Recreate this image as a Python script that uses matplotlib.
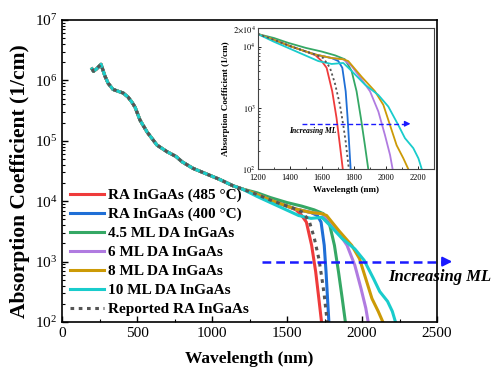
import numpy as np
import matplotlib
matplotlib.use('Agg')
import matplotlib.pyplot as plt
from matplotlib.ticker import FixedLocator, FixedFormatter, LogLocator, MultipleLocator, NullFormatter

plt.rcParams['font.family'] = ['Liberation Serif', 'DejaVu Serif']
plt.rcParams['mathtext.fontset'] = 'stix'

# shared short-wavelength part (all curves overlap here)
wl_common = [200, 210, 230, 260, 285, 307, 340, 375, 407, 440, 465, 487, 520, 567,
             633, 700, 760, 800, 873, 967, 1050, 1140, 1200]
a_common = [1.55e6, 1.42e6, 1.55e6, 1.85e6, 1.2e6, 9.0e5, 7.1e5, 6.6e5, 6.2e5, 5.3e5,
            4.4e5, 3.6e5, 2.2e5, 1.4e5, 8.5e4, 6.6e4, 5.5e4, 4.5e4, 3.5e4, 2.8e4,
            2.3e4, 1.8e4, 1.6e4]

# tails beyond 1200 nm
wl_ra485 = [1300, 1400, 1500, 1560, 1598, 1629, 1664, 1691, 1712, 1730, 1740]
a_ra485 = [1.29e4, 1.02e4, 8.3e3, 7.2e3, 5.8e3, 4.5e3, 1.86e3, 6.8e2, 2.45e2, 1.0e2, 7e1]

wl_ra400 = [1300, 1400, 1500, 1560, 1660, 1702, 1727, 1748, 1760, 1770, 1779, 1790]
a_ra400 = [1.29e4, 1.02e4, 8.3e3, 7.4e3, 6.5e3, 5.8e3, 4.5e3, 1.86e3, 6.8e2, 2.45e2, 1.0e2, 7e1]

wl_da45 = [1300, 1389, 1500, 1598, 1681, 1743, 1785, 1816, 1843, 1868, 1889, 1898]
a_da45 = [1.38e4, 1.15e4, 9.5e3, 8.3e3, 7.2e3, 6.2e3, 4.0e3, 1.86e3, 6.8e2, 2.45e2, 1.0e2, 7e1]

wl_da6 = [1300, 1400, 1500, 1560, 1660, 1733, 1785, 1848, 1900, 1952, 1993, 2025, 2041, 2050]
a_da6 = [1.29e4, 1.02e4, 8.3e3, 7.4e3, 6.5e3, 6.2e3, 4.8e3, 2.9e3, 1.86e3, 8.7e2, 3.6e2,
         1.7e2, 1.0e2, 7e1]

wl_da8 = [1300, 1400, 1500, 1560, 1660, 1733, 1764, 1848, 1931, 1983, 2025, 2066, 2108, 2139, 2150]
a_da8 = [1.29e4, 1.02e4, 8.3e3, 7.4e3, 6.5e3, 6.2e3, 5.8e3, 3.2e3, 1.86e3, 1.12e3, 5.2e2,
         2.45e2, 1.5e2, 1.0e2, 7e1]

wl_da10 = [1300, 1389, 1500, 1577, 1660, 1733, 1785, 1868, 1952, 2014, 2077, 2118, 2170, 2202, 2223, 2232]
a_da10 = [1.2e4, 9.5e3, 7.1e3, 5.8e3, 5.2e3, 5.4e3, 4.0e3, 2.4e3, 1.62e3, 1.05e3, 5.2e2,
          3.2e2, 2.2e2, 1.5e2, 1.0e2, 7e1]

wl_rep = [1300, 1400, 1500, 1560, 1608, 1650, 1681, 1712, 1733, 1748, 1760, 1768, 1778]
a_rep = [1.29e4, 1.02e4, 8.3e3, 7.4e3, 6.5e3, 4.5e3, 2.5e3, 1.12e3, 5.2e2, 2.8e2, 1.5e2, 1.0e2, 7e1]

series = [
    ('RA InGaAs (485 °C)', wl_ra485, a_ra485, '#ef3b3b', '-'),
    ('RA InGaAs (400 °C)', wl_ra400, a_ra400, '#1f6fd6', '-'),
    ('4.5 ML DA InGaAs', wl_da45, a_da45, '#35a865', '-'),
    ('6 ML DA InGaAs', wl_da6, a_da6, '#b07be0', '-'),
    ('8 ML DA InGaAs', wl_da8, a_da8, '#cc9a06', '-'),
    ('10 ML DA InGaAs', wl_da10, a_da10, '#19cccc', '-'),
    ('Reported RA InGaAs', wl_rep, a_rep, '#555555', (0, (1.2, 1.5))),
]

fig = plt.figure(figsize=(4.95, 3.75), dpi=100)
ax = fig.add_axes([0.1253, 0.1413, 0.7576, 0.8053])

for name, wl, a, col, ls in series:
    x = wl_common + wl
    y = a_common + a
    ax.plot(x, y, color=col, ls=ls, lw=2.2, label=name)

ax.set_yscale('log')
ax.set_xlim(0, 2500)
ax.set_ylim(1e2, 1e7)
ax.xaxis.set_major_locator(MultipleLocator(500))
ax.xaxis.set_minor_locator(MultipleLocator(250))
ax.tick_params(which='both', direction='in', labelsize=11)
ax.tick_params(which='major', length=4, width=1)
ax.tick_params(which='minor', length=2, width=0.8)
ax.set_xlabel('Wavelength (nm)', fontsize=12.5, fontweight='bold', labelpad=8)
ax.set_ylabel('Absorption Coefficient (1/cm)', fontsize=15.5, fontweight='bold')
ax.yaxis.set_label_coords(-0.085, 0.467)
for s in ax.spines.values():
    s.set_linewidth(1.2)

leg = ax.legend(loc='lower left', bbox_to_anchor=(0.005, 0.0), frameon=False,
                prop={'weight': 'bold', 'size': 11}, handlelength=2.2,
                handletextpad=0.3, labelspacing=0.34, borderaxespad=0.0)

# main arrow
ax.plot([1333, 2560], [1000, 1000], color='#1a1aff', lw=1.8, ls=(0, (3.5, 2)), clip_on=False)
ax.annotate('', xy=(2620, 1000), xytext=(2540, 1000), annotation_clip=False,
            arrowprops=dict(arrowstyle='-|>', color='#1a1aff', lw=1.5, mutation_scale=14))
ax.text(2173, 560, 'Increasing ML', fontsize=12, fontweight='bold', style='italic',
        ha='left', va='center', clip_on=False)

# inset
ins = fig.add_axes([0.521, 0.549, 0.356, 0.376])
for name, wl, a, col, ls in series:
    x = wl_common + wl
    y = a_common + a
    ins.plot(x, y, color=col, ls=ls, lw=1.3)
ins.set_yscale('log')
ins.set_xlim(1200, 2300)
ins.set_ylim(1e2, 2e4)
ins.xaxis.set_major_locator(MultipleLocator(200))
ins.xaxis.set_minor_locator(MultipleLocator(100))
ins.yaxis.set_major_locator(FixedLocator([1e2, 1e3, 1e4, 2e4]))
ins.yaxis.set_major_formatter(FixedFormatter(['$10^2$', '$10^3$', '$10^4$', r'$2{\times}10^4$']))
ins.yaxis.set_minor_locator(LogLocator(subs=np.arange(2, 10)))
ins.yaxis.set_minor_formatter(NullFormatter())
ins.tick_params(which='both', direction='in', labelsize=6, pad=1.5)
ins.tick_params(axis='x', pad=3.5)
ins.tick_params(which='major', length=2.5, width=0.6)
ins.tick_params(which='minor', length=1.5, width=0.5)
ins.set_xlabel('Wavelength (nm)', fontsize=6.5, fontweight='bold', labelpad=3)
ins.set_ylabel('Absorption Coefficient (1/cm)', fontsize=6.5, fontweight='bold', labelpad=2)
for s in ins.spines.values():
    s.set_linewidth(0.8)
    s.set_color('#444444')
ins.plot([1475, 2110], [550, 550], color='#1a1aff', lw=1.0, ls=(0, (3.5, 2)))
ins.annotate('', xy=(2170, 550), xytext=(2100, 550),
             arrowprops=dict(arrowstyle='-|>', color='#1a1aff', lw=1.0, mutation_scale=8))
ins.text(1545, 420, 'Increasing ML', fontsize=5.5, fontweight='bold', style='italic',
         ha='center', va='center')

fig.savefig('out.png', dpi=100)
